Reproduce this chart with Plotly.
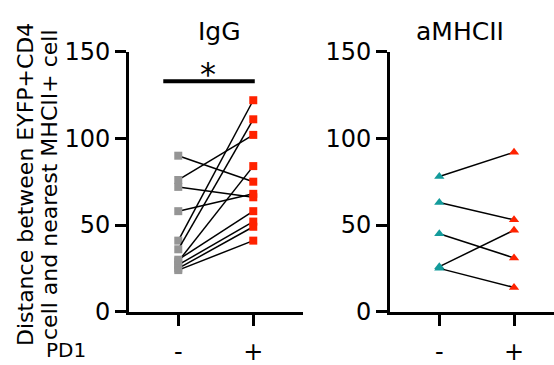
import plotly.graph_objects as go

# ---- data ----
categories = ["-", "+"]
igg_minus = [90, 76, 72, 58, 41, 36, 29, 30, 27, 25, 24]
igg_plus = [75, 102, 66, 68, 122, 111, 84, 58, 52, 49, 41]
mhc_minus = [78, 63, 45, 26, 25]
mhc_plus = [92, 53, 31, 47, 14]
yticks = [0, 50, 100, 150]
panel_titles = ["IgG", "aMHCII"]
ytitle_lines = ["Distance between EYFP+CD4", "cell and nearest MHCII+ cell"]
group_label = "PD1"
sig_y = 133
sig_text = "*"

GRAY = "#959595"
RED = "#FF2200"
TEAL = "#139B9B"
FONT = "DejaVu Sans, Liberation Sans, Arial, sans-serif"

W, H = 554, 365
fig = go.Figure()

for m, p in zip(igg_minus, igg_plus):
    fig.add_trace(go.Scatter(
        x=[0, 1], y=[m, p], mode="lines+markers", xaxis="x", yaxis="y",
        line=dict(color="black", width=1.5),
        marker=dict(symbol="square", size=8, color=[GRAY, RED]),
        cliponaxis=False, showlegend=False, hoverinfo="skip"))

for m, p in zip(mhc_minus, mhc_plus):
    fig.add_trace(go.Scatter(
        x=[0, 1], y=[m, p], mode="lines+markers", xaxis="x2", yaxis="y2",
        line=dict(color="black", width=1.5),
        marker=dict(symbol="triangle-up", size=9, color=[TEAL, RED]),
        cliponaxis=False, showlegend=False, hoverinfo="skip"))

def px_x(v):
    return v / W

def px_y(v):
    return (H - v) / H

ydom = [px_y(311.7), px_y(51.7)]
axis_common = dict(showgrid=False, zeroline=False, showline=True, linecolor="black",
                   linewidth=3, ticks="outside", tickwidth=3, ticklen=11, tickcolor="black",
                   automargin=False,
                   tickfont=dict(family=FONT, size=24, color="black"))
yaxis_common = dict(showgrid=False, zeroline=False, showline=True, linecolor="black",
                    linewidth=3, ticks="outside", tickwidth=3, ticklen=11, tickcolor="black",
                    automargin=False,
                    tickfont=dict(family=FONT, size=24, color="black"),
                    range=[0, 150], tickvals=yticks, domain=ydom)

def note(text, x, y, size, angle=0):
    return dict(text=text, x=px_x(x), y=px_y(y), xref="paper", yref="paper",
                xanchor="center", yanchor="middle", textangle=angle,
                showarrow=False, font=dict(family=FONT, size=size, color="black"))

fig.update_layout(
    template="none",
    width=W, height=H, margin=dict(l=0, r=0, t=0, b=0, pad=0),
    paper_bgcolor="white", plot_bgcolor="white",
    xaxis=dict(domain=[px_x(129), px_x(303)], range=[-0.657, 1.663],
               tickvals=[0, 1], ticktext=categories, anchor="y",
               ticklabelstandoff=5, **axis_common),
    yaxis=dict(anchor="x", **yaxis_common),
    xaxis2=dict(domain=[px_x(390), 1.0], range=[-0.66, 1.535],
                tickvals=[0, 1], ticktext=categories, anchor="y2",
                ticklabelstandoff=5, **axis_common),
    yaxis2=dict(anchor="x2", **yaxis_common),
    shapes=[dict(type="line", xref="x", yref="y", x0=-0.2, x1=1.02, y0=sig_y, y1=sig_y,
                 line=dict(color="black", width=4))],
    annotations=[
        note(panel_titles[0], 219, 32, 25),
        note(panel_titles[1], 460, 32, 25),
        note(ytitle_lines[0], 25, 185, 22, -90),
        note(ytitle_lines[1], 49, 185, 22, -90),
        note(group_label, 66, 350, 20),
        dict(text=sig_text, x=0.4, y=sig_y, xref="x", yref="y", yanchor="bottom",
             xanchor="center", yshift=-14, showarrow=False,
             font=dict(family=FONT, size=32, color="black")),
    ],
)

fig.write_html("out.html", config={"displayModeBar": False, "staticPlot": True},
               post_script="document.body.style.margin='0px';document.body.style.padding='0px';")
